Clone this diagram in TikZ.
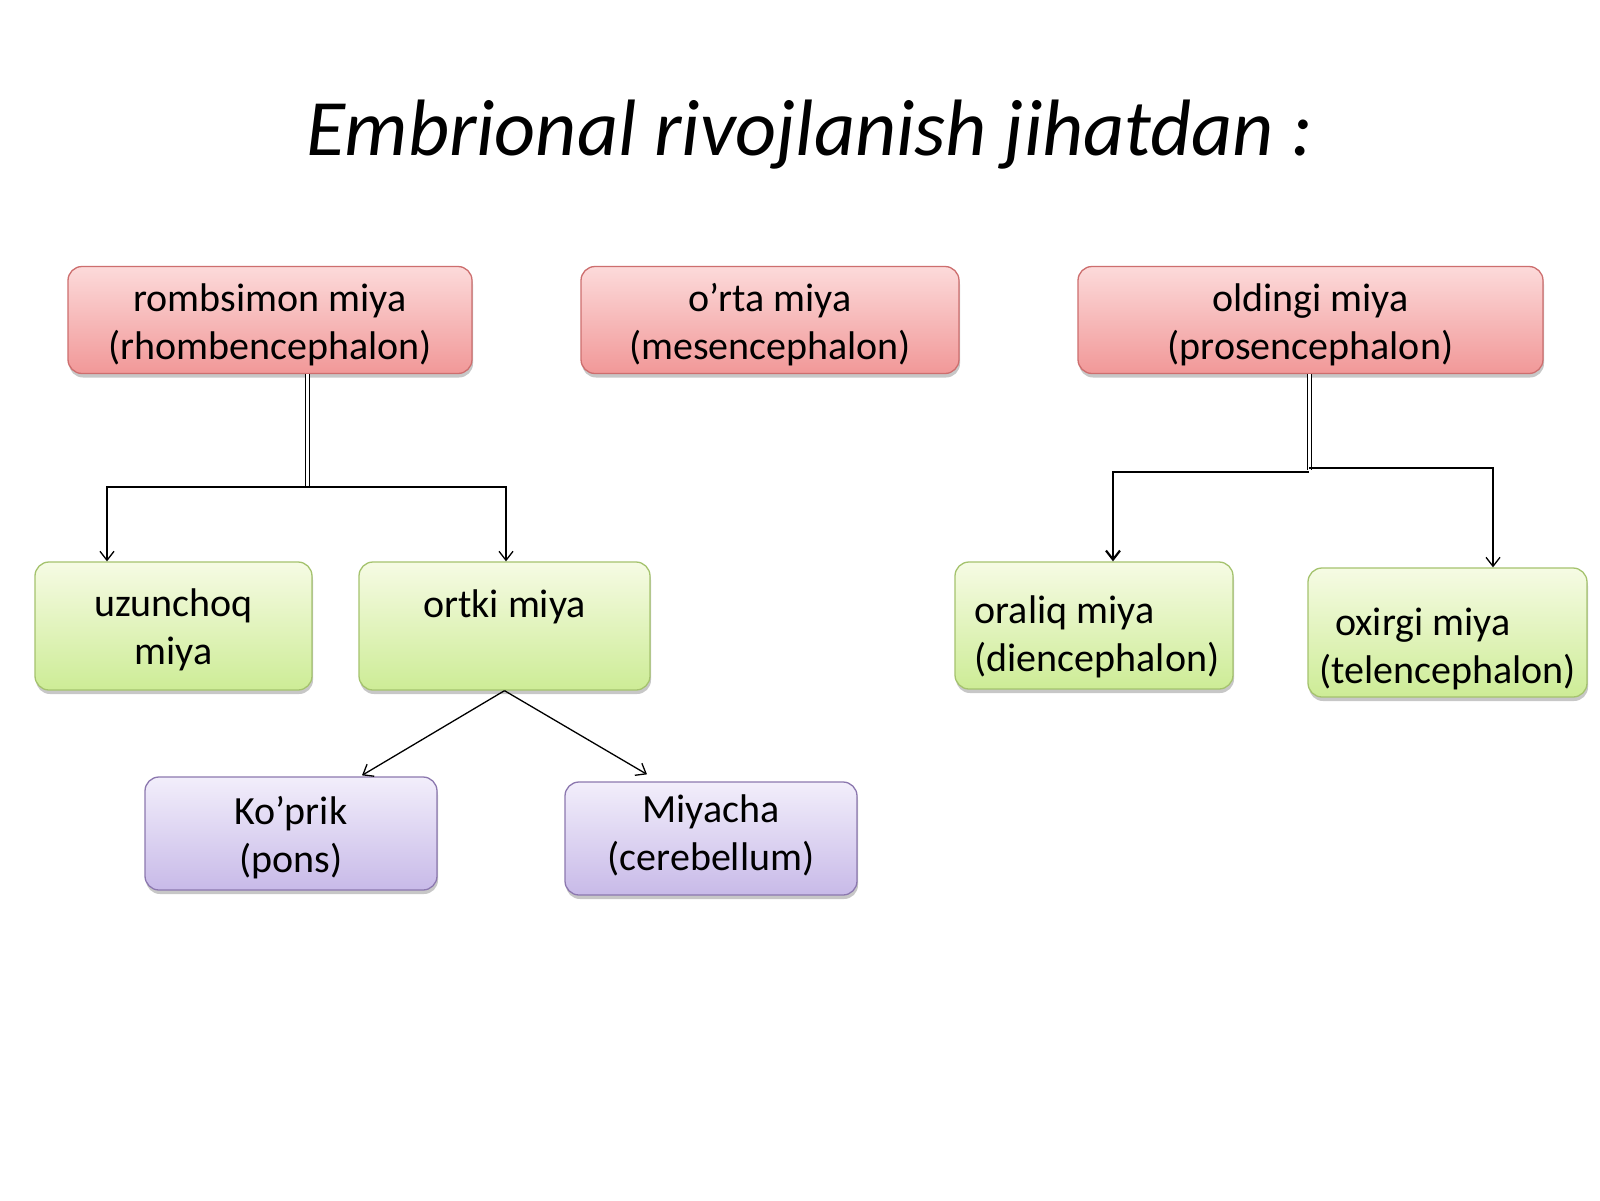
\documentclass[tikz,border=0pt]{standalone}
\usepackage{fontspec}
\setmainfont{Carlito}
\usetikzlibrary{arrows.meta,shadows}
\definecolor{redtop}{RGB}{252,218,218}
\definecolor{redbot}{RGB}{241,152,152}
\definecolor{redline}{RGB}{205,110,110}
\definecolor{grntop}{RGB}{246,251,228}
\definecolor{grnbot}{RGB}{205,236,150}
\definecolor{grnline}{RGB}{165,195,110}
\definecolor{purtop}{RGB}{242,238,251}
\definecolor{purbot}{RGB}{200,186,232}
\definecolor{purline}{RGB}{140,120,175}
\newcommand{\shiftedtext}[3]{\raisebox{#1}[\height][\depth]{\begin{tabular}{@{}#2@{}}#3\end{tabular}}}
\tikzset{
  box/.style={rectangle, rounded corners=14pt, draw, line width=1.3pt, inner sep=0pt,
    font=\fontsize{40}{48}\selectfont,
    drop shadow={shadow xshift=1pt, shadow yshift=-4pt, opacity=0.22, fill=black}},
  redbox/.style={box, draw=redline, top color=redtop, bottom color=redbot},
  grnbox/.style={box, draw=grnline, top color=grntop, bottom color=grnbot},
  purbox/.style={box, draw=purline, top color=purtop, bottom color=purbot},
  arr/.style={-{Straight Barb[length=9pt,width=14pt]}, line width=1.3pt},
  dbl/.style={double, double distance=3pt, line width=1pt}
}
\begin{document}
\begin{tikzpicture}[x=1pt,y=-1pt]
\path[use as bounding box, fill=white] (0,0) rectangle (1600,1200);
\node[anchor=base, font=\fontsize{80}{96}\selectfont\itshape] (title) at (810,155) {Embrional rivojlanish jihatdan :};

\node[redbox, minimum width=404pt, minimum height=107pt] (r) at (270,320) {\shiftedtext{-6pt}{c}{rombsimon miya\\(rhombencephalon)}};
\node[redbox, minimum width=378pt, minimum height=107pt] (m) at (770,320) {\shiftedtext{-6pt}{c}{o’rta miya\\(mesencephalon)}};
\node[redbox, minimum width=465pt, minimum height=107pt] (p) at (1310.5,320) {\shiftedtext{-6pt}{c}{oldingi miya\\(prosencephalon)}};

\node[grnbox, minimum width=277pt, minimum height=128pt] (uz) at (173.5,626) {\shiftedtext{-5pt}{c}{uzunchoq\\miya}};
\node[grnbox, minimum width=291pt, minimum height=128pt] (ort) at (504.5,626) {\shiftedtext{-6pt}{c}{ortki miya\\\mbox{}}};
\node[grnbox, minimum width=278pt, minimum height=127pt] (ora) at (1094,625.5) {\shiftedtext{-12pt}{@{\hspace{6pt}}l@{}}{oraliq miya\\(diencephalon)}};
\node[grnbox, minimum width=279pt, minimum height=129pt] (oxi) at (1447.5,632.5) {\shiftedtext{-17pt}{l}{\hspace*{0.4em}oxirgi miya\\(telencephalon)}};

\node[purbox, minimum width=292pt, minimum height=113pt] (kop) at (291,833.5) {\shiftedtext{-5pt}{c}{Ko’prik\\(pons)}};
\node[purbox, minimum width=292pt, minimum height=113pt] (miy) at (711,838.5) {\shiftedtext{2pt}{c}{Miyacha\\(cerebellum)}};

% rhombencephalon branches
\coordinate (rj) at (307,487);
\draw[dbl] (r.south -| rj) -- (rj);
\draw[arr] (rj) -| ([xshift=-66.5pt]uz.north);
\draw[arr] (rj) -| ([xshift=1.5pt]ort.north);

% prosencephalon branches
\coordinate (pj) at (1309,470);
\draw[dbl] (p.south -| pj) -- (pj);
\draw[arr, line width=2.2pt] (1309,472) -| ([xshift=19pt]ora.north);
\draw[arr] (1309,468) -| ([xshift=45.5pt]oxi.north);

% ortki miya branches
\draw[arr] (ort.south) -- ([xshift=71pt,yshift=1pt]kop.north);
\draw[arr] (ort.south) -- ([xshift=-64pt,yshift=7pt]miy.north);
\end{tikzpicture}
\end{document}
